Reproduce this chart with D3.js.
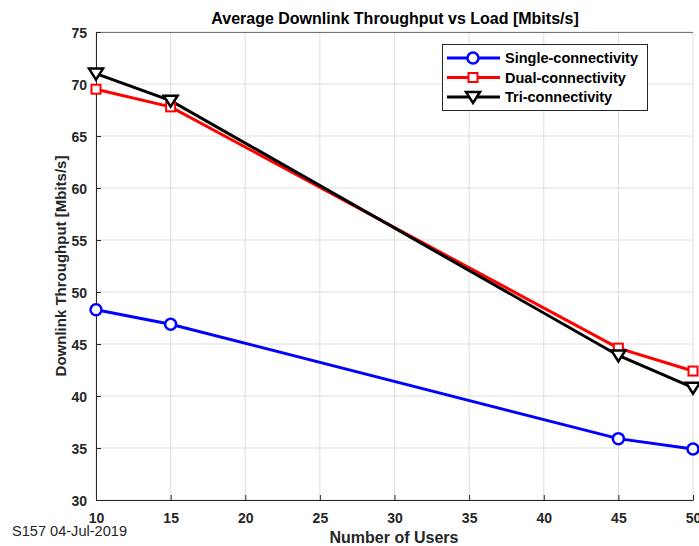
<!DOCTYPE html>
<html><head><meta charset="utf-8">
<script src="https://cdn.jsdelivr.net/npm/d3@7"></script>
<style>body{margin:0;background:#fff}svg{display:block}text{font-family:"Liberation Sans",Arial,sans-serif}</style>
</head><body>
<svg id="c" width="699" height="546"></svg>
<script>
const users = [10, 15, 45, 50];
const single = [48.3, 46.9, 35.9, 34.9];
const dual = [69.5, 67.8, 44.6, 42.4];
const tri = [71.0, 68.4, 43.9, 40.8];
const xTicks = [10, 15, 20, 25, 30, 35, 40, 45, 50];
const yTicks = [30, 35, 40, 45, 50, 55, 60, 65, 70, 75];
const seriesNames = ["Single-connectivity", "Dual-connectivity", "Tri-connectivity"];

const svg = d3.select("#c");
const L = 96, R = 693, T = 32, B = 500;
const x = d3.scaleLinear().domain([10, 50]).range([L, R]);
const y = d3.scaleLinear().domain([30, 75]).range([B, T]);

// grid
svg.append("g").selectAll("line").data(xTicks).join("line")
  .attr("x1", d => x(d)).attr("x2", d => x(d)).attr("y1", T).attr("y2", B)
  .attr("stroke", "#dedede").attr("stroke-width", 1);
svg.append("g").selectAll("line").data(yTicks).join("line")
  .attr("x1", L).attr("x2", R).attr("y1", d => y(d)).attr("y2", d => y(d))
  .attr("stroke", "#dedede").attr("stroke-width", 1);

// axes
const xa = svg.append("g").attr("transform", `translate(0,${B})`)
  .call(d3.axisBottom(x).tickValues(xTicks).tickSizeInner(-5).tickSizeOuter(0).tickPadding(13));
const ya = svg.append("g").attr("transform", `translate(${L},0)`)
  .call(d3.axisLeft(y).tickValues(yTicks).tickSizeInner(-5).tickSizeOuter(0).tickPadding(9));
[xa, ya].forEach(a => {
  a.select(".domain").attr("stroke", "#262626");
  a.selectAll(".tick line").attr("stroke", "#262626");
  a.selectAll("text").attr("font-size", 14).attr("font-weight", "bold").attr("fill", "#262626")
    .style("font-family", '"Liberation Sans",Arial,sans-serif');
});
ya.selectAll(".tick text").attr("dy", "0.42em");
// top border
svg.append("line").attr("x1", L).attr("x2", R).attr("y1", T + 0.5).attr("y2", T + 0.5).attr("stroke", "#262626").attr("stroke-width", 0.6);

const line = d3.line().x((d, i) => x(users[i])).y(d => y(d));
const colors = ["#0000ff", "#ff0000", "#000000"];
const data = [single, dual, tri];
data.forEach((s, k) => {
  svg.append("path").datum(s).attr("d", line).attr("fill", "none")
    .attr("stroke", colors[k]).attr("stroke-width", 3);
});
function marker(g, k, cx, cy) {
  if (k === 0) g.append("circle").attr("cx", cx).attr("cy", cy).attr("r", 5.5)
    .attr("fill", "#fff").attr("stroke", colors[0]).attr("stroke-width", 2.5);
  else if (k === 1) g.append("rect").attr("x", cx - 4.5).attr("y", cy - 4.5).attr("width", 9).attr("height", 9)
    .attr("fill", "#fff").attr("stroke", colors[1]).attr("stroke-width", 2);
  else g.append("path").attr("d", `M${cx - 7},${cy - 5}L${cx + 7},${cy - 5}L${cx},${cy + 6}Z`)
    .attr("fill", "#fff").attr("stroke", colors[2]).attr("stroke-width", 2.5).attr("stroke-linejoin", "miter");
}
data.forEach((s, k) => {
  const g = svg.append("g");
  s.forEach((v, i) => marker(g, k, x(users[i]), y(v)));
});

// legend
const lg = svg.append("g");
lg.append("rect").attr("x", 442.5).attr("y", 44.5).attr("width", 205).attr("height", 66)
  .attr("fill", "#fff").attr("stroke", "#262626").attr("stroke-width", 1);
seriesNames.forEach((n, k) => {
  const yy = 58 + k * 19.5;
  lg.append("line").attr("x1", 447).attr("x2", 500).attr("y1", yy).attr("y2", yy)
    .attr("stroke", colors[k]).attr("stroke-width", 3);
  marker(lg, k, 473, yy);
  lg.append("text").attr("x", 505).attr("y", yy + 5).attr("font-size", 14.5).attr("font-weight", "bold")
    .attr("fill", "#000").text(n);
});

// titles
svg.append("text").attr("x", 395).attr("y", 24).attr("text-anchor", "middle").attr("font-size", 16)
  .attr("font-weight", "bold").attr("fill", "#000").text("Average Downlink Throughput vs Load [Mbits/s]");
svg.append("text").attr("x", 394).attr("y", 543).attr("text-anchor", "middle").attr("font-size", 16)
  .attr("font-weight", "bold").attr("fill", "#262626").text("Number of Users");
svg.append("text").attr("transform", "translate(66,266) rotate(-90)").attr("text-anchor", "middle").attr("font-size", 15)
  .attr("font-weight", "bold").attr("fill", "#262626").text("Downlink Throughput [Mbits/s]");
svg.append("text").attr("x", 12).attr("y", 536).attr("font-size", 14).attr("fill", "#262626")
  .attr("textLength", 115).attr("lengthAdjust", "spacingAndGlyphs").text("S157 04-Jul-2019");
</script>
</body></html>
